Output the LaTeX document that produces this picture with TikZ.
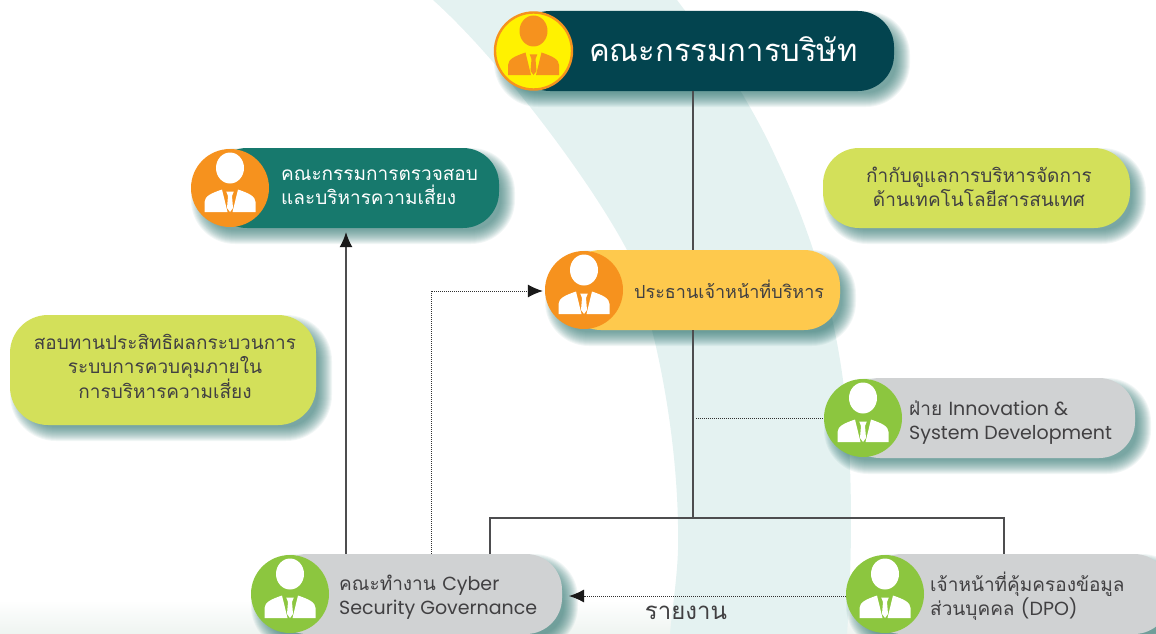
\documentclass[tikz,border=0pt]{standalone}
\usepackage{fontspec}
\usetikzlibrary{arrows.meta,calc}
\newfontfamily\thaitxt[Script=Thai]{Loma}
\newfontfamily\latintxt{Poppins}
\newcommand{\lat}[1]{{\latintxt #1}}
\definecolor{boardcol}{HTML}{03444F}
\definecolor{auditcol}{HTML}{17796D}
\definecolor{ceocol}{HTML}{FEC94D}
\definecolor{orangecol}{HTML}{F6921E}
\definecolor{yellowcol}{HTML}{FFF200}
\definecolor{greencol}{HTML}{8CC63F}
\definecolor{greycol}{HTML}{D0D2D3}
\definecolor{limecol}{HTML}{D3E05A}
\definecolor{txtcol}{HTML}{414042}
\definecolor{linecol}{HTML}{4D4D4F}
\definecolor{dotcol}{HTML}{303030}
\definecolor{swoosh}{HTML}{E4F2F1}
\definecolor{shadowcol}{HTML}{2F7570}
\definecolor{floorcol}{HTML}{EEF4F1}
\tikzset{
  pillbox/.style={rectangle,rounded corners=36pt,inner sep=0pt},
  iconbg/.style={circle,inner sep=0pt,minimum size=78pt},
  label/.style={inner sep=0pt,text=txtcol,font=\thaitxt\fontsize{19}{24}\selectfont},
  solidline/.style={draw=linecol,line width=1.2pt},
  dotline/.style={draw=dotcol,line width=1pt,dash pattern=on 1pt off 1pt},
  tip/.style={-{Latex[length=15pt,width=13pt,color=black!90]}},
}
\newcommand{\softshadow}[5]{%
  \foreach \e in {8,7,...,-6}{%
    \pgfmathsetmacro\rr{#5+\e}%
    \fill[shadowcol,opacity=.065,rounded corners=\rr pt]
      ({#1+8-\e},{#2+8-\e}) rectangle ({#3+8+\e},{#4+8+\e});
  }%
}
\newcommand{\person}[3]{% centre x, centre y, fg
  \begin{scope}[shift={(#1,#2)}]
    \fill[#3] (0,-20) ellipse [x radius=14,y radius=15.5];
    \fill[#3] (-25.5,24) -- (-25.5,14) .. controls (-25.5,8) and (-18,5) .. (-8,1.5) -- (-2.5,24) -- cycle;
    \fill[#3] (25.5,24) -- (25.5,14) .. controls (25.5,8) and (18,5) .. (8,1.5) -- (2.5,24) -- cycle;
    \fill[#3] (-3.8,3.5) -- (3.8,3.5) -- (2,8) -- (3,20) -- (0,24) -- (-3,20) -- (-2,8) -- cycle;
  \end{scope}
}
\begin{document}
\begin{tikzpicture}[x=1pt,y=-1pt]
\useasboundingbox (0,0) rectangle (1156,634);
\clip (0,0) rectangle (1156,634);
% background
\shade[top color=white,bottom color=floorcol] (0,600) rectangle (1156,634);
\fill[swoosh] (433,0) .. controls (500,60) and (590,180) .. (627,250)
  .. controls (655,320) and (680,440) .. (678,550) .. controls (677,580) and (672,610) .. (670,634)
  -- (847,634) .. controls (851,580) and (853,500) .. (848,430)
  .. controls (842,340) and (820,250) .. (777,160) .. controls (750,100) and (715,50) .. (677,0) -- cycle;
% shadows
\softshadow{494}{11}{894}{91}{36}
\softshadow{191}{148}{499}{228}{36}
\softshadow{823}{148}{1130}{228}{36}
\softshadow{10}{315}{316}{425}{38}
\softshadow{545}{250}{840}{330}{36}
\softshadow{824}{378}{1135}{458}{36}
\softshadow{251}{554}{562}{634}{36}
\softshadow{846}{554}{1170}{634}{36}
% pills (their left ends sit behind the round icons)
\node[pillbox,fill=boardcol,minimum width=380pt,minimum height=80pt] (board) at (704,51) {};
\node[pillbox,fill=auditcol,minimum width=288pt,minimum height=80pt] (audit) at (355,188) {};
\node[pillbox,fill=limecol,minimum width=307pt,minimum height=80pt] (note1) at (976.5,188) {};
\node[pillbox,fill=limecol,rounded corners=38pt,minimum width=306pt,minimum height=110pt] (note2) at (163,370) {};
\node[pillbox,fill=ceocol,minimum width=275pt,minimum height=80pt] (ceo) at (702.5,290) {};
\node[pillbox,fill=greycol,minimum width=291pt,minimum height=80pt] (innov) at (989.5,418) {};
\node[pillbox,fill=greycol,minimum width=291pt,minimum height=80pt] (cyber) at (416.5,594) {};
\node[pillbox,fill=greycol,minimum width=304pt,minimum height=80pt] (dpo) at (1018,594) {};
% junction points
\coordinate (hub) at (693,518);
\coordinate (jleft) at (490,518);
\coordinate (jright) at (1004,518);
\coordinate (dotdrop) at (431,291);
\coordinate (auditdrop) at (346,300);
% connectors
\draw[solidline] (hub |- ceo.north) -- (hub |- board.south);
\draw[solidline] (hub |- ceo.south) -- (hub);
\draw[solidline] (jleft |- cyber.north) -- (jleft) -- (jright) -- (jright |- dpo.north);
\draw[solidline,tip] (auditdrop |- cyber.north) -- ($(auditdrop |- audit.south)+(0,4)$);
% icons
\node[iconbg,fill=yellowcol,draw=orangecol,line width=2.4pt,minimum size=77pt] (icboard) at (533.5,51) {};
\person{533.5}{51}{orangecol}
\node[iconbg,fill=orangecol] (icaudit) at (230,188) {};
\person{230}{188}{white}
\node[iconbg,fill=orangecol] (icceo) at (584,290) {};
\person{584}{290}{white}
\node[iconbg,fill=greencol] (icinnov) at (863,418) {};
\person{863}{418}{white}
\node[iconbg,fill=greencol] (iccyber) at (290,594) {};
\person{290}{594}{white}
\node[iconbg,fill=greencol] (icdpo) at (885,594) {};
\person{885}{594}{white}
% dotted connectors
\draw[dotline] ($(hub |- icinnov.west)+(3,0)$) -- (icinnov.west);
\draw[dotline,tip] (cyber.north -| dotdrop) -- (dotdrop) -- ($(icceo.west)+(-2,1)$);
\coordinate (cyberright) at (569,596);
\draw[dotline,tip] (icdpo.west |- cyberright) -- (cyberright);
% text
\node[label,text=white,anchor=west,font=\thaitxt\fontsize{31}{34}\selectfont] (tboard) at (589,49.5) {คณะกรรมการบริษัท};
\node[label,text=white,anchor=west,align=left] (taudit) at (281,187) {คณะกรรมการตรวจสอบ\\และบริหารความเสี่ยง};
\node[label,align=center] (tnote1) at (979,187) {กำกับดูแลการบริหารจัดการ\\ด้านเทคโนโลยีสารสนเทศ};
\node[label,align=center] (tnote2) at (165,366.5) {สอบทานประสิทธิผลกระบวนการ\\ระบบการควบคุมภายใน\\การบริหารความเสี่ยง};
\node[label,anchor=west,font=\thaitxt\fontsize{18}{24}\selectfont] (tceo) at (634,289.5) {ประธานเจ้าหน้าที่บริหาร};
\node[label,anchor=west,align=left] (tinnov) at (909,423) {ฝ่าย \lat{Innovation \&}\\\lat{System Development}};
\node[label,anchor=west,align=left] (tcyber) at (339,597.5) {คณะทำงาน \lat{Cyber}\\\lat{Security Governance}};
\node[label,anchor=west,align=left] (tdpo) at (930,596) {เจ้าหน้าที่คุ้มครองข้อมูล\\ส่วนบุคคล \lat{(DPO)}};
\node[label,font=\thaitxt\fontsize{24}{26}\selectfont] (treport) at (686,613) {รายงาน};
\end{tikzpicture}
\end{document}
